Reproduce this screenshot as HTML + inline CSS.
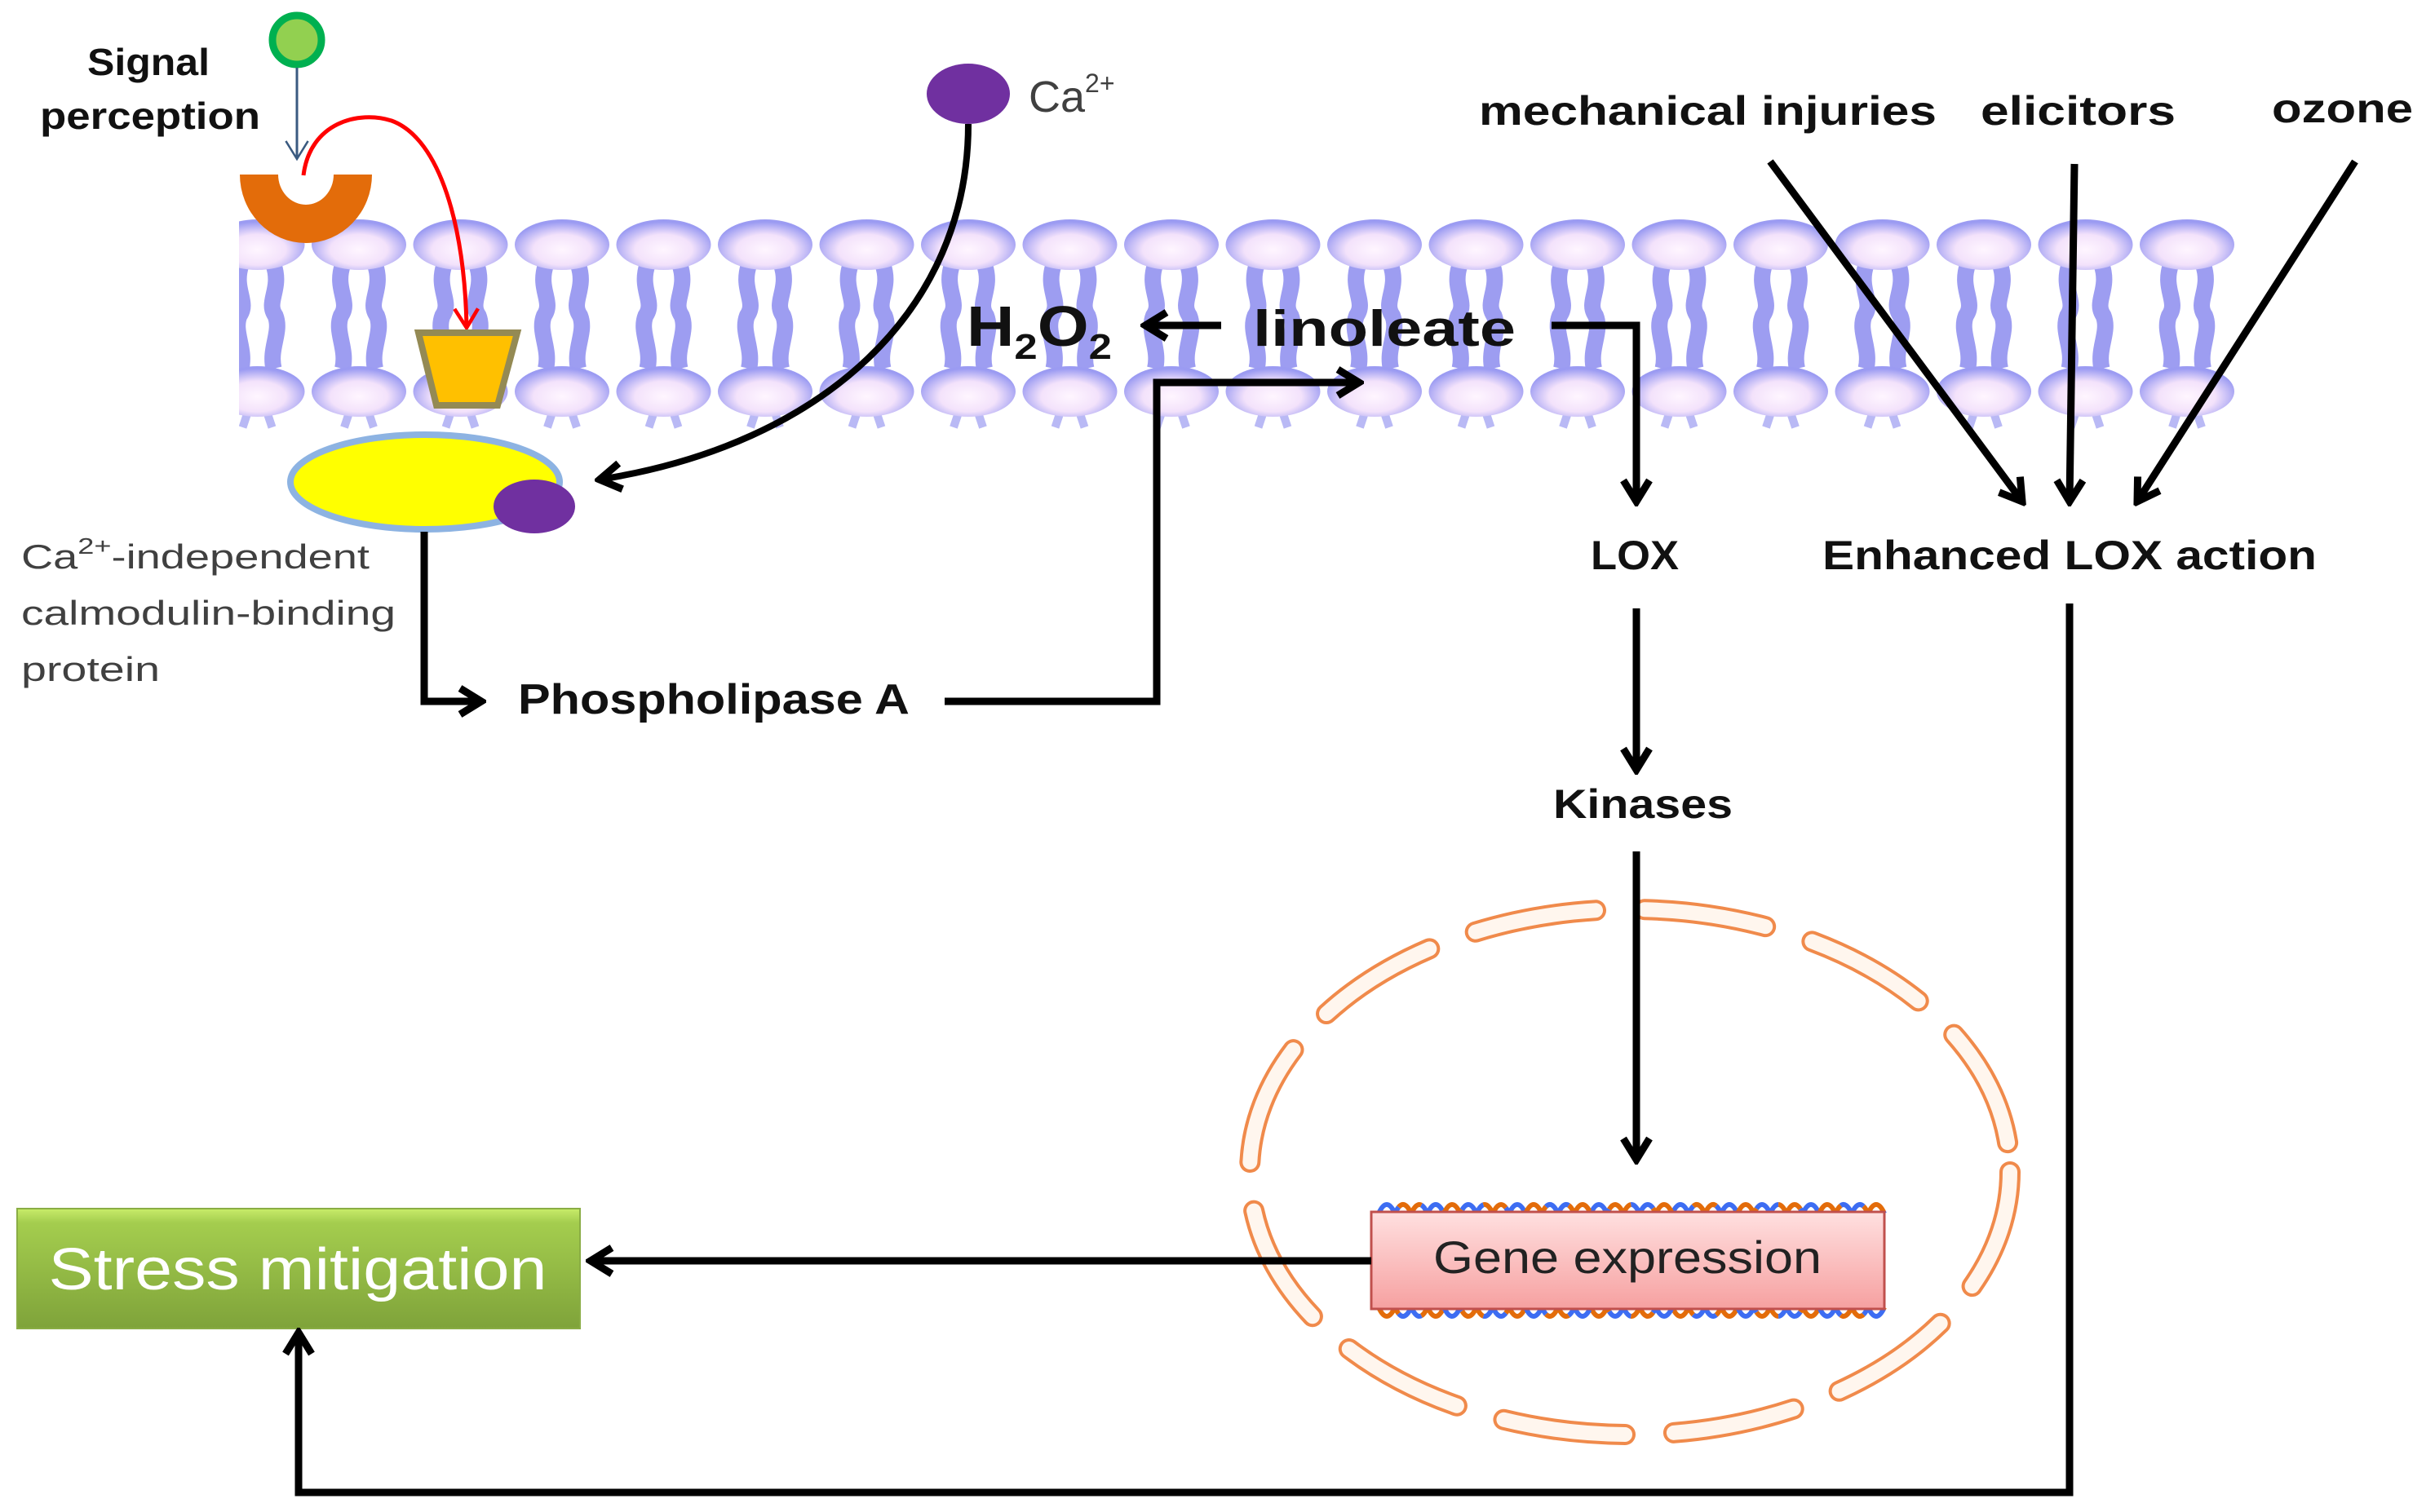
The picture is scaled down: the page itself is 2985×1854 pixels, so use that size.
<!DOCTYPE html>
<html><head><meta charset="utf-8"><style>html,body{margin:0;padding:0;background:#fff}svg{display:block}</style></head>
<body>
<svg width="2985" height="1854" viewBox="0 0 2985 1854" xmlns="http://www.w3.org/2000/svg">
<defs>
<radialGradient id="hd" cx="50%" cy="60%" r="55%">
<stop offset="0" stop-color="#fff6ff"/><stop offset="0.55" stop-color="#f3e2fb"/><stop offset="1" stop-color="#9b9bf2"/>
</radialGradient>
<linearGradient id="gr" x1="0" y1="0" x2="0" y2="1">
<stop offset="0" stop-color="#c8ec6a"/><stop offset="0.12" stop-color="#a4cd4e"/><stop offset="1" stop-color="#7fa33a"/>
</linearGradient>
<linearGradient id="pk" x1="0" y1="0" x2="0" y2="1">
<stop offset="0" stop-color="#ffe0e0"/><stop offset="1" stop-color="#f6a0a0"/>
</linearGradient>
<marker id="ah" viewBox="0 0 40 40" refX="34" refY="20" markerWidth="40" markerHeight="40" markerUnits="userSpaceOnUse" orient="auto">
<polyline points="8,4 34,20 8,36" fill="none" stroke="#000" stroke-width="9"/>
</marker>
<marker id="ar" viewBox="0 0 40 40" refX="34" refY="20" markerWidth="36" markerHeight="36" markerUnits="userSpaceOnUse" orient="auto">
<polyline points="8,4 34,20 8,36" fill="none" stroke="#f00" stroke-width="5"/>
</marker>
<marker id="ab" viewBox="0 0 40 40" refX="34" refY="20" markerWidth="34" markerHeight="34" markerUnits="userSpaceOnUse" orient="auto">
<polyline points="8,4 34,20 8,36" fill="none" stroke="#3a5a80" stroke-width="3"/>
</marker>
<g id="lip">
<path d="M-20,325 c-10,30 10,45 -2,62 c-8,20 8,40 2,65" fill="none" stroke="#8585ee" stroke-width="20" opacity="0.8"/>
<path d="M20,325 c10,30 -10,45 2,62 c8,20 -8,40 -2,65" fill="none" stroke="#8585ee" stroke-width="20" opacity="0.8"/>
<path d="M-10,500 l-8,24 M10,500 l8,24" stroke="#b9b9f5" stroke-width="10"/>
<ellipse cx="0" cy="480" rx="58" ry="31" fill="url(#hd)"/>
<ellipse cx="0" cy="300" rx="58" ry="31" fill="url(#hd)"/>
</g>
<clipPath id="mc"><rect x="293" y="266" width="2448" height="262"/></clipPath>
</defs>

<g clip-path="url(#mc)">
<use href="#lip" x="315.5"/><use href="#lip" x="440"/><use href="#lip" x="564.5"/><use href="#lip" x="689"/><use href="#lip" x="813.5"/><use href="#lip" x="938"/><use href="#lip" x="1062.5"/><use href="#lip" x="1187"/><use href="#lip" x="1311.5"/><use href="#lip" x="1436"/><use href="#lip" x="1560.5"/><use href="#lip" x="1685"/><use href="#lip" x="1809.5"/><use href="#lip" x="1934"/><use href="#lip" x="2058.5"/><use href="#lip" x="2183"/><use href="#lip" x="2307.5"/><use href="#lip" x="2432"/><use href="#lip" x="2556.5"/><use href="#lip" x="2681"/>
</g>

<circle cx="364" cy="49" r="30" fill="#92d050" stroke="#00b050" stroke-width="9"/>
<line x1="364" y1="83" x2="364" y2="195" stroke="#3a5a80" stroke-width="3" marker-end="url(#ab)"/>
<path d="M294,214 A81,84 0 0 0 456,214 L409,214 A34,37 0 0 1 341,214 Z" fill="#e36c0a"/>
<path d="M372,215 C380,150 440,135 480,148 C540,170 570,280 572,402" fill="none" stroke="#f00" stroke-width="5" marker-end="url(#ar)"/>
<polygon points="513,408 634,408 610,497 535,497" fill="#ffc000" stroke="#948a54" stroke-width="8"/>
<text x="182" y="92" font-family="Liberation Sans, sans-serif" font-weight="bold" font-size="46" text-anchor="middle" fill="#111" textLength="150" lengthAdjust="spacingAndGlyphs">Signal</text>
<text x="184" y="158" font-family="Liberation Sans, sans-serif" font-weight="bold" font-size="46" text-anchor="middle" fill="#111" textLength="270" lengthAdjust="spacingAndGlyphs">perception</text>

<ellipse cx="521" cy="591" rx="165" ry="58" fill="#ffff00" stroke="#8db3e2" stroke-width="8"/>
<ellipse cx="655" cy="621" rx="50" ry="33" fill="#7030a0"/>
<ellipse cx="1187" cy="115" rx="51" ry="37" fill="#7030a0"/>
<text x="1261" y="137" font-family="Liberation Sans, sans-serif" font-size="54" fill="#404040">Ca<tspan font-size="32" dy="-24">2+</tspan></text>
<path d="M1187,152 C1187,380 1010,545 735,588" fill="none" stroke="#000" stroke-width="8" marker-end="url(#ah)"/>
<g font-family="Liberation Sans, sans-serif" font-size="42" fill="#404040">
<text x="26" y="697" textLength="427" lengthAdjust="spacingAndGlyphs">Ca<tspan font-size="28" dy="-18">2+</tspan><tspan dy="18">-independent</tspan></text>
<text x="26" y="766" textLength="459" lengthAdjust="spacingAndGlyphs">calmodulin-binding</text>
<text x="26" y="835" textLength="170" lengthAdjust="spacingAndGlyphs">protein</text>
</g>
<polyline points="520,652 520,860 590,860" fill="none" stroke="#000" stroke-width="9" marker-end="url(#ah)"/>
<text x="635" y="875" font-family="Liberation Sans, sans-serif" font-weight="bold" font-size="52" fill="#111" textLength="480" lengthAdjust="spacingAndGlyphs">Phospholipase A</text>
<polyline points="1158,860 1418,860 1418,469 1666,469" fill="none" stroke="#000" stroke-width="9" marker-end="url(#ah)"/>

<text x="1185" y="424" font-family="Liberation Sans, sans-serif" font-weight="bold" font-size="70" fill="#111" textLength="178" lengthAdjust="spacingAndGlyphs">H<tspan font-size="44" dy="16">2</tspan><tspan dy="-16">O</tspan><tspan font-size="44" dy="16">2</tspan></text>
<line x1="1497" y1="399" x2="1404" y2="399" stroke="#000" stroke-width="9" marker-end="url(#ah)"/>
<text x="1536" y="424" font-family="Liberation Sans, sans-serif" font-weight="bold" font-size="62" fill="#111" textLength="322" lengthAdjust="spacingAndGlyphs">linoleate</text>
<polyline points="1902,399 2006,399 2006,615" fill="none" stroke="#000" stroke-width="9" marker-end="url(#ah)"/>

<g font-family="Liberation Sans, sans-serif" font-weight="bold" font-size="50" fill="#111">
<text x="2004" y="698" text-anchor="middle" textLength="108" lengthAdjust="spacingAndGlyphs">LOX</text>
<text x="2014" y="1003" text-anchor="middle" textLength="220" lengthAdjust="spacingAndGlyphs">Kinases</text>
<text x="2537" y="698" text-anchor="middle" textLength="606" lengthAdjust="spacingAndGlyphs">Enhanced LOX action</text>
<text x="1813" y="153" textLength="561" lengthAdjust="spacingAndGlyphs">mechanical injuries</text>
<text x="2428" y="153" textLength="239" lengthAdjust="spacingAndGlyphs">elicitors</text>
<text x="2785" y="150" textLength="173" lengthAdjust="spacingAndGlyphs">ozone</text>
</g>
<line x1="2006" y1="746" x2="2006" y2="944" stroke="#000" stroke-width="9" marker-end="url(#ah)"/>
<line x1="2170" y1="198" x2="2479" y2="615" stroke="#000" stroke-width="9" marker-end="url(#ah)"/>
<line x1="2543" y1="201" x2="2537" y2="615" stroke="#000" stroke-width="9" marker-end="url(#ah)"/>
<line x1="2887" y1="198" x2="2620" y2="615" stroke="#000" stroke-width="9" marker-end="url(#ah)"/>

<ellipse cx="1998" cy="1437" rx="466" ry="322" fill="none" stroke="#f08a4b" stroke-width="26" stroke-dasharray="150 60" stroke-linecap="round"/>
<ellipse cx="1998" cy="1437" rx="466" ry="322" fill="none" stroke="#fff6ee" stroke-width="18" stroke-dasharray="150 60" stroke-linecap="round"/>
<line x1="2006" y1="1044" x2="2006" y2="1422" stroke="#000" stroke-width="9" marker-end="url(#ah)"/>

<g fill="none" stroke-width="6">
<path d="M1690,1488 q10,-22 20,0 q10,-22 20,0 q10,-22 20,0 q10,-22 20,0 q10,-22 20,0 q10,-22 20,0 q10,-22 20,0 q10,-22 20,0 q10,-22 20,0 q10,-22 20,0 q10,-22 20,0 q10,-22 20,0 q10,-22 20,0 q10,-22 20,0 q10,-22 20,0 q10,-22 20,0 q10,-22 20,0 q10,-22 20,0 q10,-22 20,0 q10,-22 20,0 q10,-22 20,0 q10,-22 20,0 q10,-22 20,0 q10,-22 20,0 q10,-22 20,0 q10,-22 20,0 q10,-22 20,0 q10,-22 20,0 q10,-22 20,0 q10,-22 20,0 q10,-22 20,0" stroke="#3d6df2" stroke-dasharray="40 40"/>
<path d="M1690,1488 q10,-22 20,0 q10,-22 20,0 q10,-22 20,0 q10,-22 20,0 q10,-22 20,0 q10,-22 20,0 q10,-22 20,0 q10,-22 20,0 q10,-22 20,0 q10,-22 20,0 q10,-22 20,0 q10,-22 20,0 q10,-22 20,0 q10,-22 20,0 q10,-22 20,0 q10,-22 20,0 q10,-22 20,0 q10,-22 20,0 q10,-22 20,0 q10,-22 20,0 q10,-22 20,0 q10,-22 20,0 q10,-22 20,0 q10,-22 20,0 q10,-22 20,0 q10,-22 20,0 q10,-22 20,0 q10,-22 20,0 q10,-22 20,0 q10,-22 20,0 q10,-22 20,0" stroke="#e36c0a" stroke-dasharray="40 40" stroke-dashoffset="40"/>
<path d="M1690,1603 q10,22 20,0 q10,22 20,0 q10,22 20,0 q10,22 20,0 q10,22 20,0 q10,22 20,0 q10,22 20,0 q10,22 20,0 q10,22 20,0 q10,22 20,0 q10,22 20,0 q10,22 20,0 q10,22 20,0 q10,22 20,0 q10,22 20,0 q10,22 20,0 q10,22 20,0 q10,22 20,0 q10,22 20,0 q10,22 20,0 q10,22 20,0 q10,22 20,0 q10,22 20,0 q10,22 20,0 q10,22 20,0 q10,22 20,0 q10,22 20,0 q10,22 20,0 q10,22 20,0 q10,22 20,0 q10,22 20,0" stroke="#e36c0a" stroke-dasharray="40 40"/>
<path d="M1690,1603 q10,22 20,0 q10,22 20,0 q10,22 20,0 q10,22 20,0 q10,22 20,0 q10,22 20,0 q10,22 20,0 q10,22 20,0 q10,22 20,0 q10,22 20,0 q10,22 20,0 q10,22 20,0 q10,22 20,0 q10,22 20,0 q10,22 20,0 q10,22 20,0 q10,22 20,0 q10,22 20,0 q10,22 20,0 q10,22 20,0 q10,22 20,0 q10,22 20,0 q10,22 20,0 q10,22 20,0 q10,22 20,0 q10,22 20,0 q10,22 20,0 q10,22 20,0 q10,22 20,0 q10,22 20,0 q10,22 20,0" stroke="#3d6df2" stroke-dasharray="40 40" stroke-dashoffset="40"/>
</g>
<rect x="1681" y="1486" width="629" height="119" fill="url(#pk)" stroke="#c0504d" stroke-width="3"/>
<text x="1995" y="1561" font-family="Liberation Sans, sans-serif" font-size="56" fill="#222" text-anchor="middle" textLength="476" lengthAdjust="spacingAndGlyphs">Gene expression</text>

<rect x="21" y="1482" width="690" height="147" fill="url(#gr)" stroke="#8aad45" stroke-width="2"/>
<text x="365" y="1581" font-family="Liberation Sans, sans-serif" font-size="72" fill="#fff" text-anchor="middle" textLength="611" lengthAdjust="spacingAndGlyphs">Stress mitigation</text>
<line x1="1681" y1="1546" x2="724" y2="1546" stroke="#000" stroke-width="9" marker-end="url(#ah)"/>
<polyline points="2537,740 2537,1830 366,1830 366,1634" fill="none" stroke="#000" stroke-width="9" marker-end="url(#ah)"/>
</svg>
</body></html>
